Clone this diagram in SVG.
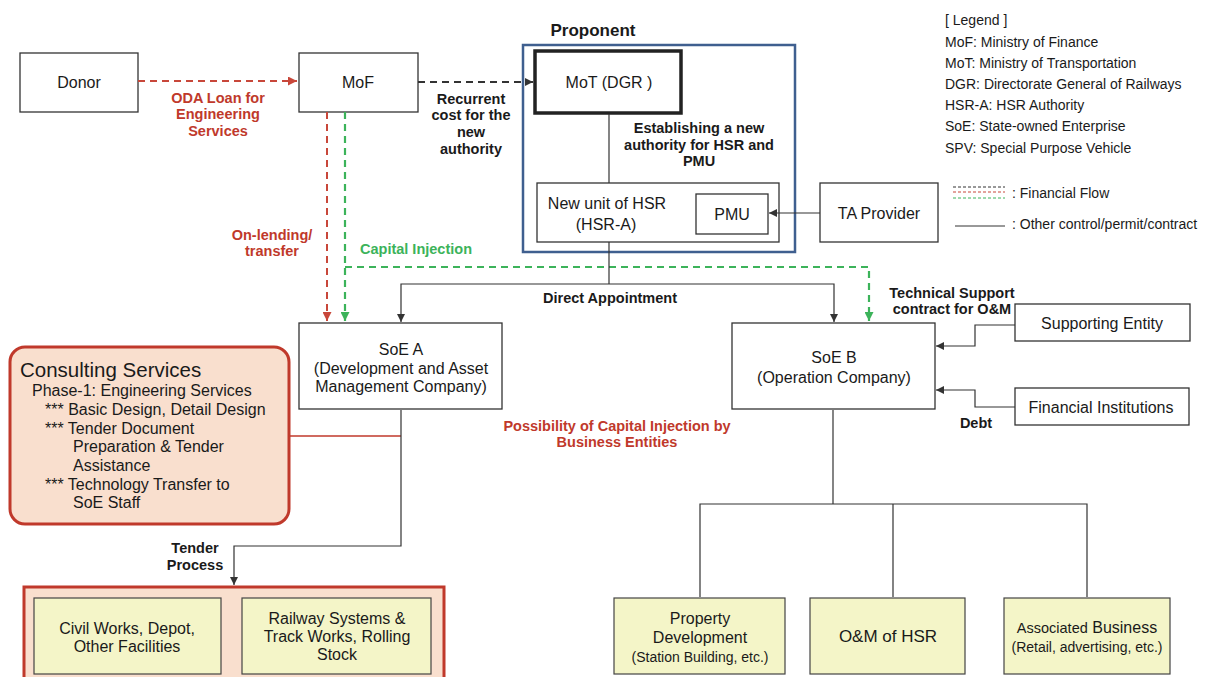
<svg xmlns="http://www.w3.org/2000/svg" width="1208" height="677" viewBox="0 0 1208 677">
<defs>
  <style>
    text { font-family: "Liberation Sans", Arial, sans-serif; fill: #1a1a1a; }
    .n { font-size: 16px; text-anchor: middle; }
    .s { font-size: 14px; text-anchor: middle; }
    .lb { font-size: 14.5px; font-weight: bold; text-anchor: middle; }
    .red { fill: #c0392b; }
    .grn { fill: #3cb35a; }
    .box { fill: #fff; stroke: #333; stroke-width: 1.3; }
    .ybox { fill: #f4f5c8; stroke: #444; stroke-width: 1.2; }
    .ln { fill: none; stroke: #333; stroke-width: 1.2; }
    .dr { fill: none; stroke: #c8473a; stroke-width: 2; stroke-dasharray: 7 5; }
    .dg { fill: none; stroke: #3cb35a; stroke-width: 2.2; stroke-dasharray: 7 5; }
    .dk { fill: none; stroke: #333; stroke-width: 2; stroke-dasharray: 7 5; }
    .leg { font-size: 14px; }
    .cs { font-size: 16px; }
  </style>
  <marker id="ak" viewBox="0 0 10 10" refX="10" refY="5" markerWidth="8" markerHeight="8" markerUnits="userSpaceOnUse" orient="auto"><path d="M0,0 L10,5 L0,10 z" fill="#333"/></marker>
  <marker id="ar" viewBox="0 0 10 10" refX="10" refY="5" markerWidth="9" markerHeight="9" markerUnits="userSpaceOnUse" orient="auto"><path d="M0,0 L10,5 L0,10 z" fill="#c8473a"/></marker>
  <marker id="ag" viewBox="0 0 10 10" refX="10" refY="5" markerWidth="9" markerHeight="9" markerUnits="userSpaceOnUse" orient="auto"><path d="M0,0 L10,5 L0,10 z" fill="#3cb35a"/></marker>
</defs>

<rect width="1208" height="677" fill="#fff"/>

<!-- Proponent frame -->
<g id="proponent">
  <rect x="523" y="45" width="272" height="207" fill="none" stroke="#3f5f8f" stroke-width="2.5"/>
  <text x="593" y="36" style="font-size:17px;font-weight:bold" text-anchor="middle">Proponent</text>
</g>

<!-- nodes -->
<g id="donor"><rect class="box" x="20" y="53" width="118" height="59"/><text class="n" x="79" y="88">Donor</text></g>
<g id="mof"><rect class="box" x="299" y="53" width="119" height="59"/><text class="n" x="358" y="88">MoF</text></g>
<g id="mot"><rect x="535" y="51" width="146" height="62" fill="#fff" stroke="#222" stroke-width="3.5"/><text class="n" x="609" y="88">MoT (DGR )</text></g>
<g id="hsr-a">
  <rect class="box" x="537" y="183" width="242" height="59" stroke-width="1.8"/>
  <text class="n" x="607" y="209">New unit of HSR</text>
  <text class="n" x="606" y="230">(HSR-A)</text>
</g>
<g id="pmu"><rect class="box" x="696" y="194" width="72" height="40"/><text class="n" x="732" y="220">PMU</text></g>
<g id="ta"><rect class="box" x="820" y="183" width="118" height="59"/><text class="n" x="879" y="219">TA Provider</text></g>
<g id="soe-a">
  <rect class="box" x="299" y="323" width="203" height="86" stroke-width="1.8"/>
  <text class="n" x="401" y="355">SoE A</text>
  <text class="n" x="401" y="374">(Development and Asset</text>
  <text class="n" x="401" y="392">Management Company)</text>
</g>
<g id="soe-b">
  <rect class="box" x="732" y="323" width="203" height="86" stroke-width="1.8"/>
  <text class="n" x="834" y="363">SoE B</text>
  <text class="n" x="834" y="383">(Operation Company)</text>
</g>
<g id="supporting"><rect class="box" x="1015" y="304" width="175" height="37"/><text class="n" x="1102" y="329">Supporting Entity</text></g>
<g id="financial"><rect class="box" x="1015" y="388" width="174" height="37"/><text class="n" x="1101" y="413">Financial Institutions</text></g>

<g id="consulting">
  <rect x="10" y="347" width="279" height="177" rx="15" fill="#f9dfce" stroke="#c0392b" stroke-width="3"/>
  <text x="20" y="377" style="font-size:20.5px">Consulting Services</text>
  <text class="cs" x="32" y="396">Phase-1: Engineering Services</text>
  <text class="cs" x="45" y="415">*** Basic Design, Detail Design</text>
  <text class="cs" x="45" y="434">*** Tender Document</text>
  <text class="cs" x="73" y="452">Preparation &amp; Tender</text>
  <text class="cs" x="73" y="471">Assistance</text>
  <text class="cs" x="45" y="490">*** Technology Transfer to</text>
  <text class="cs" x="73" y="508">SoE Staff</text>
</g>

<g id="works">
  <rect x="24" y="587" width="420" height="100" fill="#f9dfce" stroke="#c0392b" stroke-width="3"/>
  <rect class="ybox" x="34" y="598" width="187" height="76"/>
  <text class="n" x="127" y="634">Civil Works, Depot,</text>
  <text class="n" x="127" y="652">Other Facilities</text>
  <rect class="ybox" x="242" y="598" width="189" height="76"/>
  <text class="n" x="337" y="624">Railway Systems &amp;</text>
  <text class="n" x="337" y="642">Track Works, Rolling</text>
  <text class="n" x="337" y="660">Stock</text>
</g>

<g id="property">
  <rect class="ybox" x="614" y="598" width="171" height="76"/>
  <text class="n" x="700" y="624">Property</text>
  <text class="n" x="700" y="643">Development</text>
  <text class="s" x="700" y="662">(Station Building, etc.)</text>
</g>
<g id="om"><rect class="ybox" x="810" y="598" width="155" height="76"/><text class="n" x="888" y="642" style="font-size:17px">O&amp;M of HSR</text></g>
<g id="associated">
  <rect class="ybox" x="1004" y="598" width="166" height="76"/>
  <text class="n" x="1087" y="633"><tspan style="font-size:14.5px">Associated</tspan> Business</text>
  <text class="s" x="1087" y="652">(Retail, advertising, etc.)</text>
</g>

<!-- connectors -->
<g id="connectors">
  <path class="dr" d="M138,81 H297" marker-end="url(#ar)"/>
  <path class="dk" d="M418,82 H533" marker-end="url(#ak)"/>
  <path class="dr" d="M327,112 V321" marker-end="url(#ar)"/>
  <path class="dg" d="M345,112 V321" marker-end="url(#ag)"/>
  <path class="dg" d="M345,267 H869 V321" marker-end="url(#ag)"/>
  <path class="ln" d="M609,114 V183" stroke="#666"/>
  <path class="ln" d="M820,213 H769" marker-end="url(#ak)"/>
  <path class="ln" d="M609,242 V284"/>
  <path class="ln" d="M609,284 H401 V322" marker-end="url(#ak)"/>
  <path class="ln" d="M609,284 H834 V322" marker-end="url(#ak)" stroke="#555"/>
  <path class="ln" d="M1015,325 H975 V346 H936" marker-end="url(#ak)" stroke="#555"/>
  <path class="ln" d="M1015,407 H975 V390 H936" marker-end="url(#ak)" stroke="#555"/>
  <path d="M290,436 H401" fill="none" stroke="#c0392b" stroke-width="1.5"/>
  <path class="ln" d="M401,410 V546 H234 V585" marker-end="url(#ak)"/>
  <path class="ln" d="M833,410 V504" stroke-width="1.6"/>
  <path class="ln" d="M700,597 V504 H1087 V597 M893,504 V597" stroke="#555"/>
</g>

<!-- connector labels -->
<g id="labels">
  <text class="lb red" x="218" y="103">ODA Loan for</text>
  <text class="lb red" x="218" y="119">Engineering</text>
  <text class="lb red" x="218" y="136">Services</text>
  <text class="lb red" x="272" y="240">On-lending/</text>
  <text class="lb red" x="272" y="256">transfer</text>
  <text class="lb grn" x="416" y="254">Capital Injection</text>
  <text class="lb" x="471" y="104">Recurrent</text>
  <text class="lb" x="471" y="120">cost for the</text>
  <text class="lb" x="471" y="137">new</text>
  <text class="lb" x="471" y="154">authority</text>
  <text class="lb" x="699" y="133">Establishing  a new</text>
  <text class="lb" x="699" y="150">authority for HSR and</text>
  <text class="lb" x="699" y="166">PMU</text>
  <text class="lb" x="610" y="303">Direct Appointment</text>
  <text class="lb" x="952" y="298">Technical Support</text>
  <text class="lb" x="952" y="314">contract for O&amp;M</text>
  <text class="lb" x="976" y="428">Debt</text>
  <text class="lb red" x="617" y="431">Possibility  of  Capital Injection by</text>
  <text class="lb red" x="617" y="447">Business  Entities</text>
  <text class="lb" x="195" y="553">Tender</text>
  <text class="lb" x="195" y="570">Process</text>
</g>

<!-- legend -->
<g id="legend">
  <text class="leg" x="945" y="25">[ Legend ]</text>
  <text class="leg" x="945" y="47">MoF: Ministry of Finance</text>
  <text class="leg" x="945" y="68">MoT: Ministry of Transportation</text>
  <text class="leg" x="945" y="89">DGR: Directorate General of Railways</text>
  <text class="leg" x="945" y="110">HSR-A: HSR Authority</text>
  <text class="leg" x="945" y="131">SoE: State-owned Enterprise</text>
  <text class="leg" x="945" y="153">SPV: Special Purpose Vehicle</text>
  <path d="M953,187 H1005" stroke="#333" stroke-width="1" stroke-dasharray="3 2"/>
  <path d="M953,192 H1005" stroke="#c8473a" stroke-width="1" stroke-dasharray="3 2"/>
  <path d="M953,198 H1005" stroke="#3cb35a" stroke-width="1" stroke-dasharray="3 2"/>
  <text class="leg" x="1012" y="198">: Financial Flow</text>
  <path d="M955,226 H1005" stroke="#333" stroke-width="1"/>
  <text class="leg" x="1012" y="229">: Other control/permit/contract</text>
</g>
</svg>
